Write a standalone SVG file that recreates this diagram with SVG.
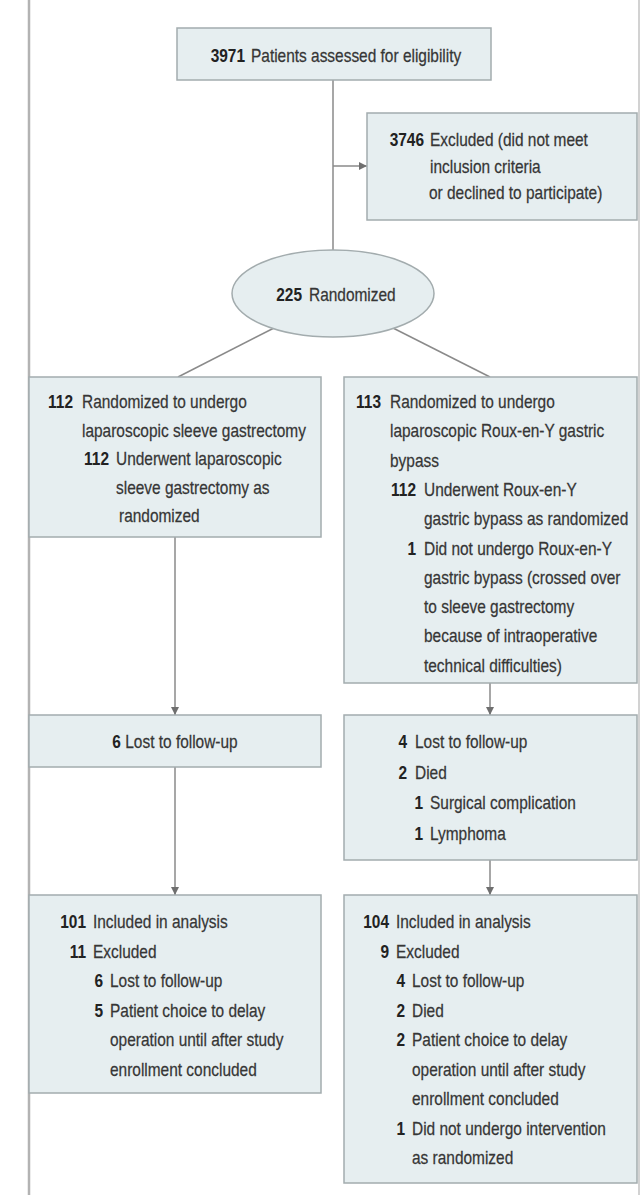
<svg xmlns="http://www.w3.org/2000/svg" width="643" height="1195" viewBox="0 0 643 1195">
<defs>
<style>
.bx{fill:#e6eef0;stroke:#a3acae;stroke-width:1.5}
.ln{stroke:#8a8a8a;stroke-width:1.5;fill:none}
.t{font-family:"Liberation Sans",Arial,sans-serif;font-size:18.5px;fill:#363636;stroke:#363636;stroke-width:0.25}
.n{font-weight:bold;fill:#222;stroke:none;text-anchor:end}
.c{text-anchor:middle}
</style>
<marker id="ah" markerUnits="userSpaceOnUse" markerWidth="8" markerHeight="8" refX="8" refY="4" orient="auto">
<path d="M0,0 L8,4 L0,8 z" fill="#6f6f6f"/>
</marker>
</defs>
<rect x="0" y="0" width="643" height="1195" fill="#ffffff"/>
<line x1="29" y1="0" x2="29" y2="1195" stroke="#b3b3b3" stroke-width="2.5"/>
<line x1="639" y1="0" x2="639" y2="1195" stroke="#d2d2d2" stroke-width="2"/>

<g id="connectors">
<line class="ln" x1="333" y1="80" x2="333" y2="251"/>
<line class="ln" x1="333" y1="166" x2="367" y2="166" marker-end="url(#ah)"/>
<line class="ln" x1="274" y1="328" x2="178" y2="377"/>
<line class="ln" x1="393" y1="328" x2="490" y2="377"/>
<line class="ln" x1="175" y1="537" x2="175" y2="715" marker-end="url(#ah)"/>
<line class="ln" x1="175" y1="767" x2="175" y2="895" marker-end="url(#ah)"/>
<line class="ln" x1="490" y1="683" x2="490" y2="715" marker-end="url(#ah)"/>
<line class="ln" x1="490" y1="860" x2="490" y2="895" marker-end="url(#ah)"/>
</g>

<g id="assessed">
<rect class="bx" x="177" y="28" width="314" height="52"/>
<text class="t n" transform="translate(245,62) scale(0.835,1)">3971</text>
<text class="t" transform="translate(251,62) scale(0.835,1)">Patients assessed for eligibility</text>
</g>

<g id="excluded">
<rect class="bx" x="367" y="113" width="270" height="107"/>
<text class="t n" transform="translate(424,146) scale(0.835,1)">3746</text>
<text class="t" transform="translate(430,146) scale(0.835,1)">Excluded (did not meet</text>
<text class="t" transform="translate(430,172.5) scale(0.835,1)">inclusion criteria</text>
<text class="t" transform="translate(429,199) scale(0.835,1)">or declined to participate)</text>
</g>

<g id="randomized">
<ellipse class="bx" cx="333" cy="293.5" rx="101" ry="43.5"/>
<text class="t n" transform="translate(302,301) scale(0.835,1)">225</text>
<text class="t" transform="translate(309,301) scale(0.835,1)">Randomized</text>
</g>

<g id="sleeve-arm">
<rect class="bx" x="29" y="377" width="292" height="160"/>
<text class="t n" transform="translate(73,408) scale(0.835,1)">112</text>
<text class="t" transform="translate(82,408) scale(0.835,1)">Randomized to undergo</text>
<text class="t" transform="translate(82,436.5) scale(0.835,1)">laparoscopic sleeve gastrectomy</text>
<text class="t n" transform="translate(109,465) scale(0.835,1)">112</text>
<text class="t" transform="translate(116,465) scale(0.835,1)">Underwent laparoscopic</text>
<text class="t" transform="translate(116,493.5) scale(0.835,1)">sleeve gastrectomy as</text>
<text class="t" transform="translate(119,522) scale(0.835,1)">randomized</text>
</g>

<g id="bypass-arm">
<rect class="bx" x="344" y="377" width="293" height="306"/>
<text class="t n" transform="translate(381,408) scale(0.835,1)">113</text>
<text class="t" transform="translate(390,408) scale(0.835,1)">Randomized to undergo</text>
<text class="t" transform="translate(390,437.3) scale(0.835,1)">laparoscopic Roux-en-Y gastric</text>
<text class="t" transform="translate(390,466.6) scale(0.835,1)">bypass</text>
<text class="t n" transform="translate(416,495.9) scale(0.835,1)">112</text>
<text class="t" transform="translate(424,495.9) scale(0.835,1)">Underwent Roux-en-Y</text>
<text class="t" transform="translate(424,525.2) scale(0.835,1)">gastric bypass as randomized</text>
<text class="t n" transform="translate(416,554.5) scale(0.835,1)">1</text>
<text class="t" transform="translate(424,554.5) scale(0.835,1)">Did not undergo Roux-en-Y</text>
<text class="t" transform="translate(424,583.8) scale(0.835,1)">gastric bypass (crossed over</text>
<text class="t" transform="translate(424,613.1) scale(0.835,1)">to sleeve gastrectomy</text>
<text class="t" transform="translate(424,642.4) scale(0.835,1)">because of intraoperative</text>
<text class="t" transform="translate(424,671.7) scale(0.835,1)">technical difficulties)</text>
</g>

<g id="sleeve-lost">
<rect class="bx" x="29" y="715" width="292" height="52"/>
<text class="t c" transform="translate(175,748) scale(0.835,1)"><tspan font-weight="bold" fill="#222" stroke="none">6</tspan> Lost to follow-up</text>
</g>

<g id="bypass-lost">
<rect class="bx" x="344" y="715" width="293" height="145"/>
<text class="t n" transform="translate(407,748) scale(0.835,1)">4</text>
<text class="t" transform="translate(415,748) scale(0.835,1)">Lost to follow-up</text>
<text class="t n" transform="translate(407,779) scale(0.835,1)">2</text>
<text class="t" transform="translate(415,779) scale(0.835,1)">Died</text>
<text class="t n" transform="translate(423,809) scale(0.835,1)">1</text>
<text class="t" transform="translate(430,809) scale(0.835,1)">Surgical complication</text>
<text class="t n" transform="translate(423,840) scale(0.835,1)">1</text>
<text class="t" transform="translate(430,840) scale(0.835,1)">Lymphoma</text>
</g>

<g id="sleeve-analysis">
<rect class="bx" x="29" y="895" width="292" height="198"/>
<text class="t n" transform="translate(86,928) scale(0.835,1)">101</text>
<text class="t" transform="translate(93,928) scale(0.835,1)">Included in analysis</text>
<text class="t n" transform="translate(86,957.5) scale(0.835,1)">11</text>
<text class="t" transform="translate(93,957.5) scale(0.835,1)">Excluded</text>
<text class="t n" transform="translate(103,987) scale(0.835,1)">6</text>
<text class="t" transform="translate(110,987) scale(0.835,1)">Lost to follow-up</text>
<text class="t n" transform="translate(103,1016.5) scale(0.835,1)">5</text>
<text class="t" transform="translate(110,1016.5) scale(0.835,1)">Patient choice to delay</text>
<text class="t" transform="translate(110,1046) scale(0.835,1)">operation until after study</text>
<text class="t" transform="translate(110,1075.5) scale(0.835,1)">enrollment concluded</text>
</g>

<g id="bypass-analysis">
<rect class="bx" x="344" y="895" width="293" height="288"/>
<text class="t n" transform="translate(389,928) scale(0.835,1)">104</text>
<text class="t" transform="translate(396,928) scale(0.835,1)">Included in analysis</text>
<text class="t n" transform="translate(389,957.5) scale(0.835,1)">9</text>
<text class="t" transform="translate(396,957.5) scale(0.835,1)">Excluded</text>
<text class="t n" transform="translate(405,987) scale(0.835,1)">4</text>
<text class="t" transform="translate(412,987) scale(0.835,1)">Lost to follow-up</text>
<text class="t n" transform="translate(405,1016.5) scale(0.835,1)">2</text>
<text class="t" transform="translate(412,1016.5) scale(0.835,1)">Died</text>
<text class="t n" transform="translate(405,1046) scale(0.835,1)">2</text>
<text class="t" transform="translate(412,1046) scale(0.835,1)">Patient choice to delay</text>
<text class="t" transform="translate(412,1075.5) scale(0.835,1)">operation until after study</text>
<text class="t" transform="translate(412,1105) scale(0.835,1)">enrollment concluded</text>
<text class="t n" transform="translate(405,1134.5) scale(0.835,1)">1</text>
<text class="t" transform="translate(412,1134.5) scale(0.835,1)">Did not undergo intervention</text>
<text class="t" transform="translate(412,1164) scale(0.835,1)">as randomized</text>
</g>
</svg>
